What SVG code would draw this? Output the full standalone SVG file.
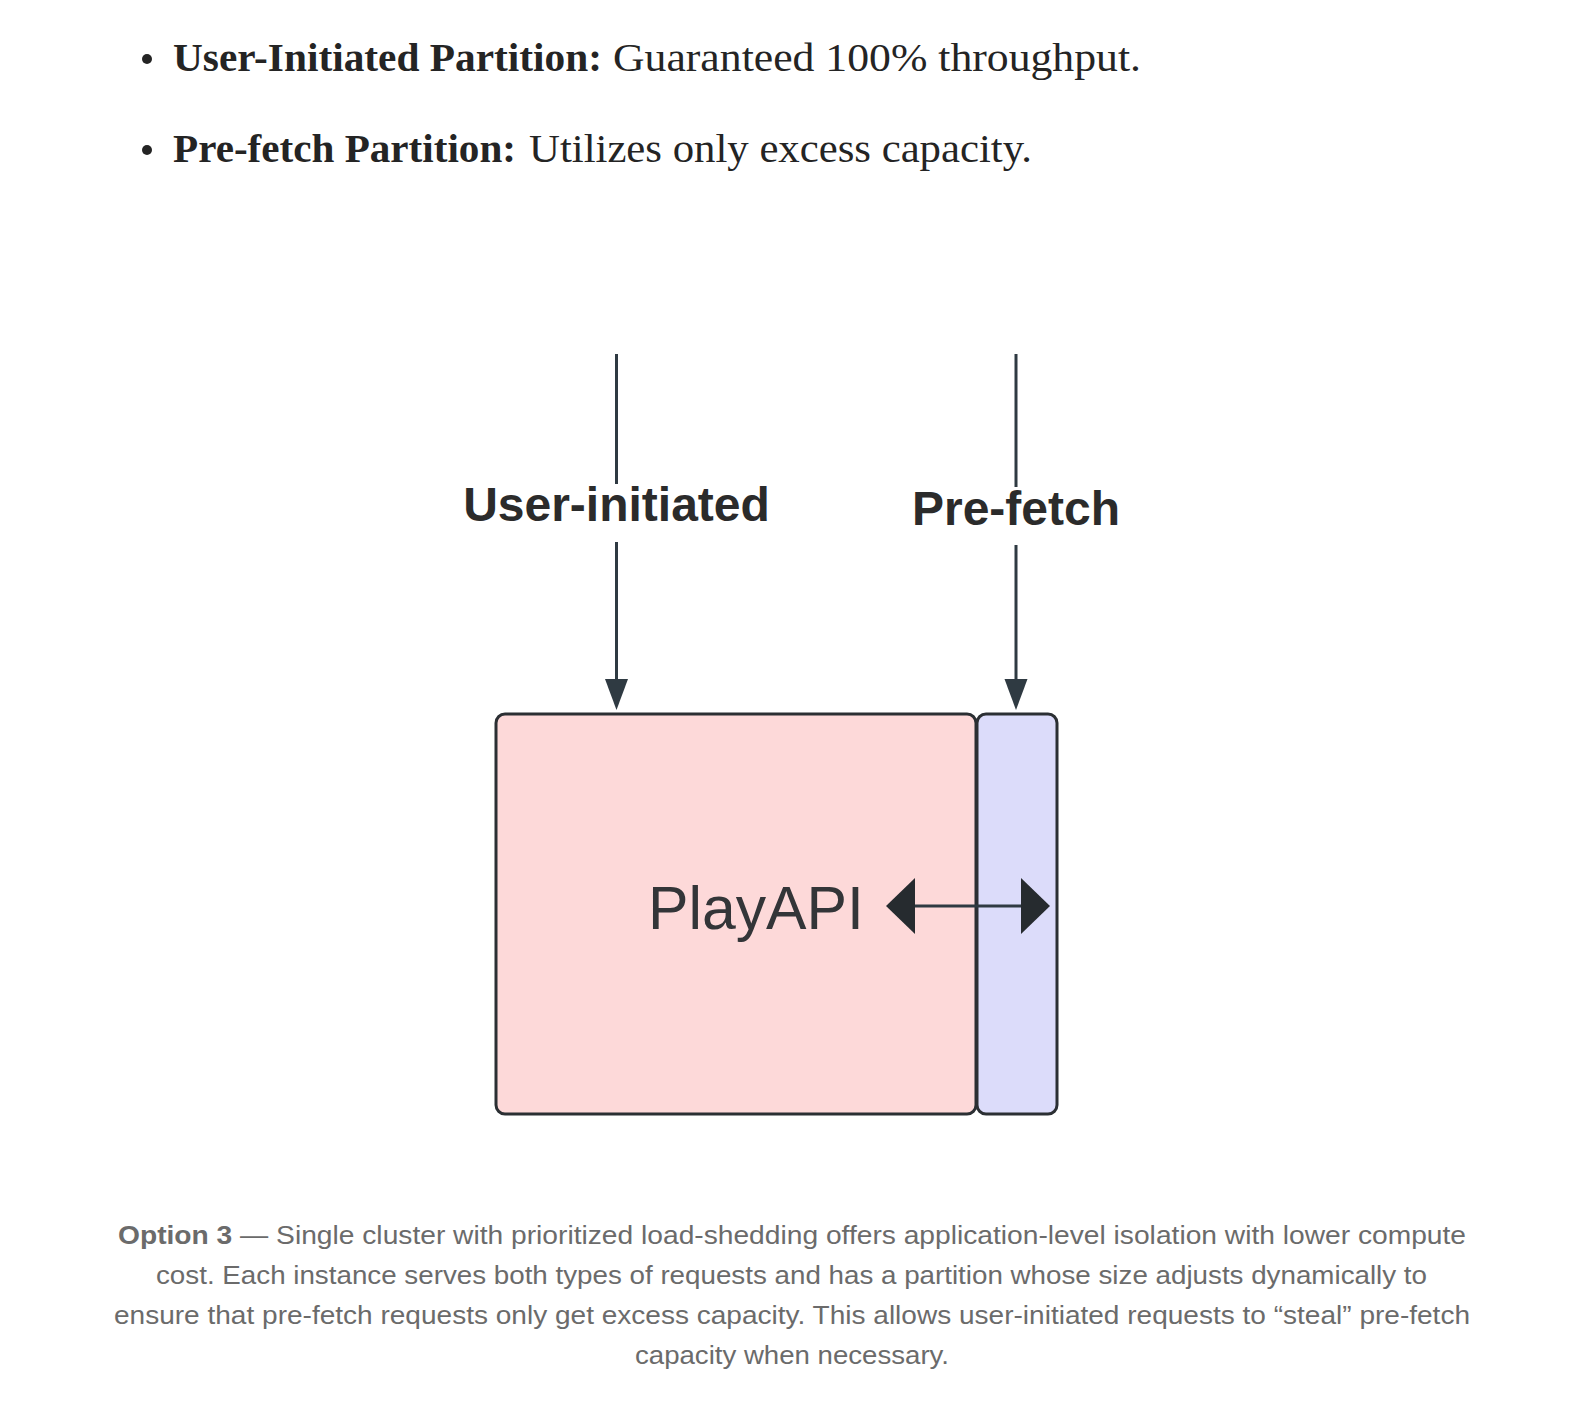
<svg xmlns="http://www.w3.org/2000/svg" width="1582" height="1420" viewBox="0 0 1582 1420">
<defs>
<style>
.body{font-family:"Liberation Serif","DejaVu Serif",serif;font-size:39px;fill:#242424}
.b{font-weight:bold}
.lbl{font-family:"Liberation Sans",Arial,sans-serif;font-weight:bold;font-size:48px;fill:#2b2b2b;text-anchor:middle}
.play{font-family:"Liberation Sans",Arial,sans-serif;font-size:61px;fill:#333538}
.cap{font-family:"Liberation Sans",Arial,sans-serif;font-size:25px;fill:#6b6b6b}
.conn{stroke:#2f3a42;stroke-width:3;fill:none}
</style>
<marker id="ah" markerWidth="24" markerHeight="32" refX="22" refY="11" orient="auto" markerUnits="userSpaceOnUse">
<path d="M0,0 L22,11 L0,22 Z" fill="#2f3a42" transform="translate(0,0)"/>
</marker>
</defs>
<rect width="1582" height="1420" fill="#ffffff"/>
<g id="bullets">
<circle cx="147" cy="59" r="5" fill="#242424"/>
<text class="body b" x="173" y="71" textLength="429" lengthAdjust="spacingAndGlyphs">User-Initiated Partition:</text>
<text class="body" x="613" y="71" textLength="528" lengthAdjust="spacingAndGlyphs">Guaranteed 100% throughput.</text>
<circle cx="147" cy="150" r="5" fill="#242424"/>
<text class="body b" x="173" y="162" textLength="343" lengthAdjust="spacingAndGlyphs">Pre-fetch Partition:</text>
<text class="body" x="529" y="162" textLength="503" lengthAdjust="spacingAndGlyphs">Utilizes only excess capacity.</text>
</g>
<g id="playapi">
<rect x="496" y="714" width="480" height="400" rx="9" fill="#fdd9d9" stroke="#2b2f33" stroke-width="3"/>
<rect x="977" y="714" width="80" height="400" rx="9" fill="#dcdcfa" stroke="#2b2f33" stroke-width="3"/>
<text class="play" x="648" y="929" textLength="216" lengthAdjust="spacingAndGlyphs">PlayAPI</text>
</g>
<g id="label-user">
<text class="lbl" x="616.5" y="521">User-initiated</text>
</g>
<g id="label-prefetch">
<text class="lbl" x="1016" y="525">Pre-fetch</text>
</g>
<g id="connectors">
<line class="conn" x1="616.5" y1="354" x2="616.5" y2="484"/>
<line class="conn" x1="616.5" y1="542" x2="616.5" y2="690"/>
<path d="M605,679 L628,679 L616.5,710 Z" fill="#2f3a42"/>
<line class="conn" x1="1016" y1="354" x2="1016" y2="487"/>
<line class="conn" x1="1016" y1="545" x2="1016" y2="690"/>
<path d="M1004.5,679 L1027.5,679 L1016,710 Z" fill="#2f3a42"/>
<line class="conn" x1="912" y1="906" x2="1023" y2="906"/>
<path d="M886,906 L915,878 L915,934 Z" fill="#262b2f"/>
<path d="M1050,906 L1021,878 L1021,934 Z" fill="#262b2f"/>
</g>
<g id="caption">
<text class="cap" x="118" y="1244" textLength="1348" lengthAdjust="spacingAndGlyphs"><tspan font-weight="bold">Option 3</tspan> — Single cluster with prioritized load-shedding offers application-level isolation with lower compute</text>
<text class="cap" x="156" y="1284" textLength="1271" lengthAdjust="spacingAndGlyphs">cost. Each instance serves both types of requests and has a partition whose size adjusts dynamically to</text>
<text class="cap" x="114" y="1324" textLength="1356" lengthAdjust="spacingAndGlyphs">ensure that pre-fetch requests only get excess capacity. This allows user-initiated requests to “steal” pre-fetch</text>
<text class="cap" x="635" y="1364" textLength="314" lengthAdjust="spacingAndGlyphs">capacity when necessary.</text>
</g>
</svg>
